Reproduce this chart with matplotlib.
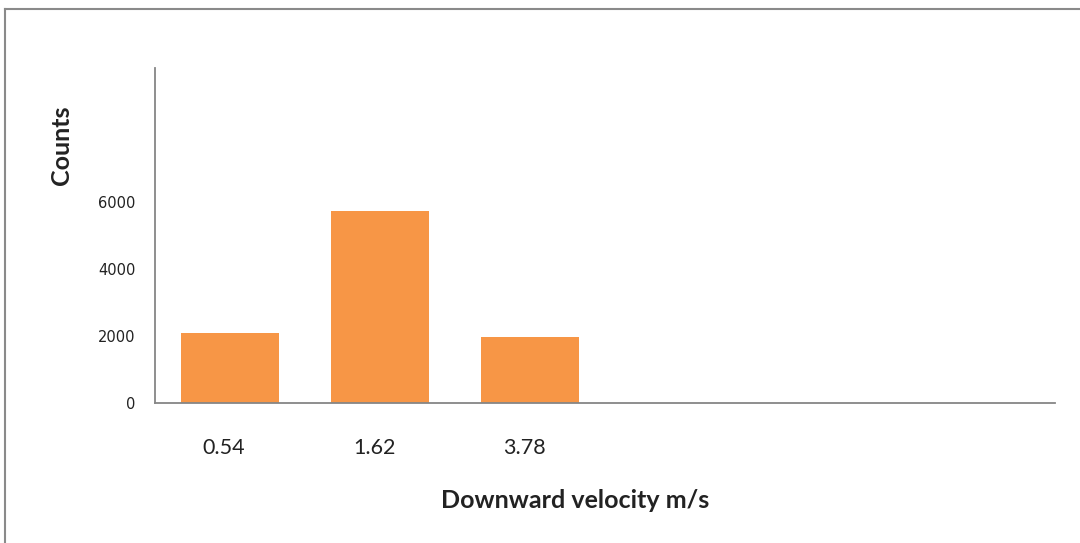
import matplotlib
matplotlib.use("Agg")
import matplotlib.pyplot as plt
from matplotlib.lines import Line2D
from matplotlib.transforms import ScaledTranslation

categories = ["0.54", "1.62", "3.78"]
n_slots = 6
counts = [2100, 5730, 1980]
yticks = [0, 2000, 4000, 6000]

plt.rcParams['font.family'] = ['Lato', 'DejaVu Sans']

W, H = 1080, 543
fig = plt.figure(figsize=(W / 100, H / 100), dpi=100)
ax = fig.add_axes([155 / W, 1 - 403 / H, 900 / W, 335 / H])

x = list(range(len(categories)))
ax.bar(x, counts, width=0.65, color="#F79646", edgecolor="none")
ax.set_xlim(-0.5, n_slots - 0.5)
ax.set_ylim(0, 10000)
ax.set_xticks(x)
ax.set_xticklabels(categories, fontsize=15.5, color="#222222")
ax.set_yticks(yticks)
ax.set_yticklabels([str(v) for v in yticks], fontsize=10.5, color="#222222",
                   family=["DejaVu Sans"])
ax.tick_params(axis="x", length=0, pad=25)
ax.tick_params(axis="y", length=0, pad=14)
shift = ScaledTranslation(-6 / 100, 0, fig.dpi_scale_trans)
for lbl in ax.get_xticklabels():
    lbl.set_transform(lbl.get_transform() + shift)
for s in ["top", "right"]:
    ax.spines[s].set_visible(False)
for s in ["left", "bottom"]:
    ax.spines[s].set_color("#868686")
    ax.spines[s].set_linewidth(1.3)

fig.text(575 / W, 1 - 500 / H, "Downward velocity m/s", ha="center", va="center",
         fontsize=18, fontweight="bold", color="#222222")
fig.text(61 / W, 1 - 145 / H, "Counts", ha="center", va="center", rotation=90,
         fontsize=18, fontweight="bold", color="#222222")

# outer chart frame (top and left edges visible)
fig.add_artist(Line2D([5 / W, 1], [1 - 9 / H, 1 - 9 / H], transform=fig.transFigure,
                      color="#8a8a8a", linewidth=1.5))
fig.add_artist(Line2D([5 / W, 5 / W], [0, 1 - 9 / H], transform=fig.transFigure,
                      color="#8a8a8a", linewidth=1.5))

fig.savefig("out.png", dpi=100, facecolor="white")
